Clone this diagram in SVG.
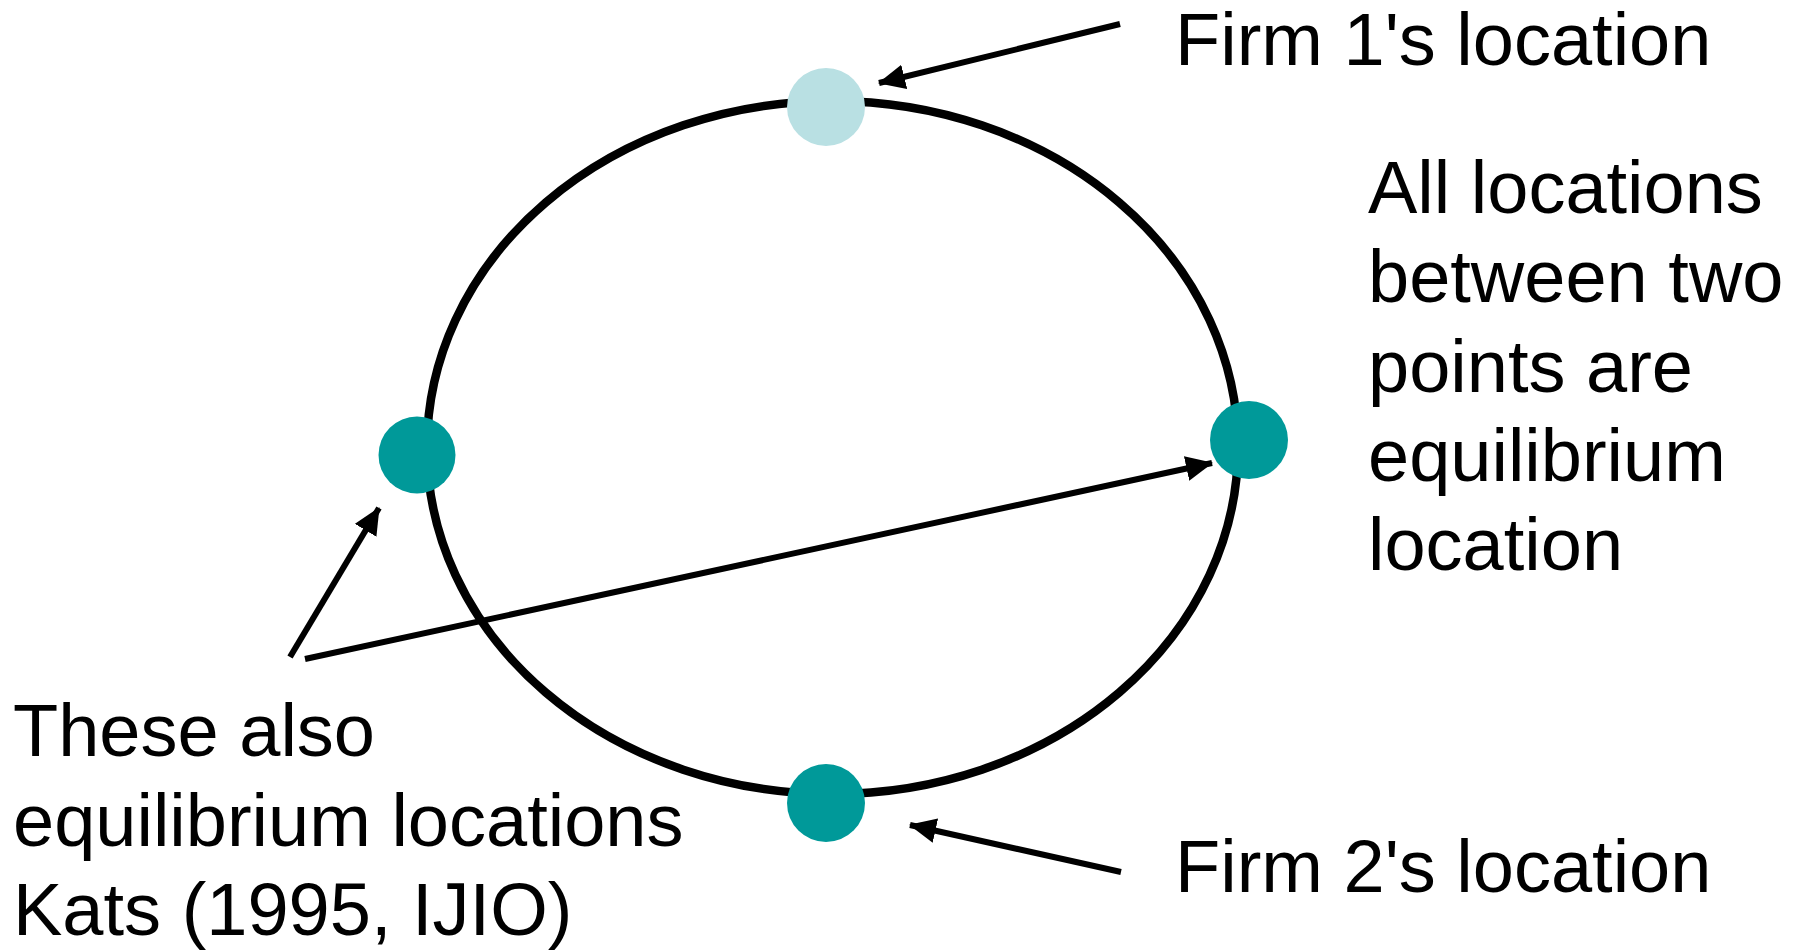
<svg xmlns="http://www.w3.org/2000/svg" width="1804" height="950" viewBox="0 0 1804 950">
<style>
text{font-family:"Liberation Sans",Arial,sans-serif;font-size:74px;fill:#000}
.conn{stroke:#000;stroke-width:6;fill:none;marker-end:url(#ah)}
</style>
<defs>
<marker id="ah" markerUnits="userSpaceOnUse" markerWidth="28" markerHeight="26" refX="26" refY="12.5" orient="auto">
<path d="M0,0 L27,12.5 L0,25 Z" fill="#000"/>
</marker>
</defs>
<rect width="1804" height="950" fill="#fff"/>
<ellipse id="circle" cx="832.5" cy="447.5" rx="405.5" ry="346.5" fill="none" stroke="#000" stroke-width="8.5"/>
<g id="connectors">
<line class="conn" x1="1120" y1="24" x2="879" y2="83"/>
<line class="conn" x1="1121" y1="872" x2="910" y2="825"/>
<line class="conn" x1="290" y1="657" x2="379" y2="508"/>
<line class="conn" x1="305" y1="659" x2="1212" y2="463"/>
</g>
<g id="firm1"><circle cx="826" cy="107" r="39" fill="#b9e0e3"/></g>
<g id="firm2"><circle cx="826" cy="803" r="39" fill="#009999"/></g>
<g id="left"><circle cx="417" cy="455" r="38.5" fill="#009999"/></g>
<g id="right"><circle cx="1249" cy="440" r="39" fill="#009999"/></g>
<g id="label-firm1"><text x="1175" y="65">Firm 1's location</text></g>
<g id="label-firm2"><text x="1175" y="892">Firm 2's location</text></g>
<g id="label-right">
<text x="1368" y="213">All locations</text>
<text x="1368" y="302">between two</text>
<text x="1368" y="392">points are</text>
<text x="1368" y="481">equilibrium</text>
<text x="1368" y="570">location</text>
</g>
<g id="label-left">
<text x="13" y="756">These also</text>
<text x="13" y="846">equilibrium locations</text>
<text x="13" y="935">Kats (1995, IJIO)</text>
</g>
</svg>
